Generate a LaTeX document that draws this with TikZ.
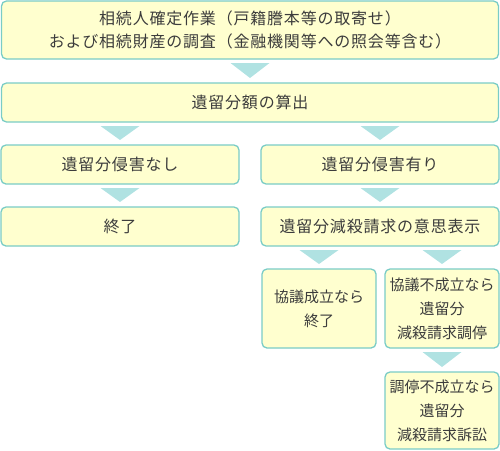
\documentclass[tikz,border=0pt]{standalone}
\usepackage{fontspec}
\setmainfont{Noto Sans CJK JP}
\usepackage{xcolor}
\usetikzlibrary{calc}
\definecolor{boxfill}{RGB}{255,255,207}
\definecolor{boxline}{RGB}{122,204,198}
\definecolor{trifill}{RGB}{176,226,226}
\definecolor{inktext}{RGB}{60,60,60}
\newcommand{\flowtri}[2]{%
  \fill[tri] ($(#2.north |- #1.south)+(-19.5,-4)$) -- ++(39,0)
    -- ($(#2.north)+(0,5)$) -- cycle;}

\begin{document}
\begin{tikzpicture}[x=1pt, y=1pt,
   box/.style={draw=boxline, fill=boxfill, line width=1.3pt, rounded corners=5pt,
               align=center, inner sep=2pt, outer sep=0pt, text=inktext,
               font=\fontsize{16}{23}\selectfont\addfontfeature{LetterSpace=5}},
   wide/.style={box, minimum width=497, minimum height=39},
   half/.style={box, minimum width=238, minimum height=39},
   small/.style={box, minimum width=114, minimum height=79,
                 font=\fontsize{15}{24}\selectfont},
   tri/.style={fill=trifill}]

  \useasboundingbox (0,0) rectangle (500,-450);

  \node[wide, minimum height=58] (survey) at (250,-30)
    {相続人確定作業（戸籍謄本等の取寄せ）\\および相続財産の調査（金融機関等への照会等含む）};
  \node[wide] (calc) at (250,-102.5) {遺留分額の算出};

  \node[half] (nohit) at (120,-164.5) {遺留分侵害なし};
  \node[half] (hit) at (380,-164.5) {遺留分侵害有り};

  \node[half] (endA) at (120,-226.5) {終了};
  \node[half] (claim) at (380,-226.5) {遺留分減殺請求の意思表示};

  \node[small] (agree) at (319,-308.5) {協議成立なら\\終了};
  \node[small] (mediate) at (442,-308.5) {協議不成立なら\\遺留分\\減殺請求調停};
  \node[small, minimum height=77] (suit) at (442,-410.5) {調停不成立なら\\遺留分\\減殺請求訴訟};

  \flowtri{survey}{calc}
  \flowtri{calc}{nohit}
  \flowtri{calc}{hit}
  \flowtri{nohit}{endA}
  \flowtri{hit}{claim}
  \flowtri{claim}{agree}
  \flowtri{claim}{mediate}
  \flowtri{mediate}{suit}
\end{tikzpicture}
\end{document}
